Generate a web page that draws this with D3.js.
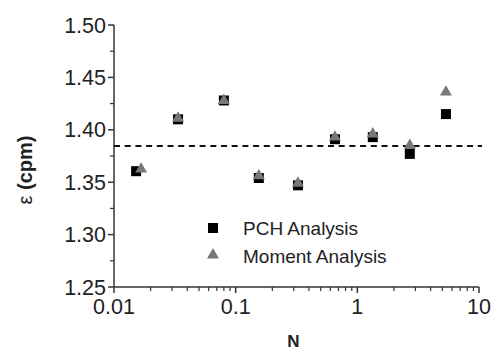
<!DOCTYPE html>
<html>
<head>
<meta charset="utf-8">
<script src="https://cdn.jsdelivr.net/npm/d3@7"></script>
<style>
    body { margin: 0; background: #fff; }
    svg { display: block; font-family: "Liberation Sans", Arial, sans-serif; }
</style>
</head>
<body>
<svg id="chart" width="495" height="350"></svg>
<script>
var pchN = [0.0152, 0.0336, 0.080, 0.155, 0.325, 0.655, 1.34, 2.7, 5.35],
    pchEps = [1.3605, 1.410, 1.428, 1.354, 1.347, 1.391, 1.393, 1.377, 1.415],
    momentN = [0.0167, 0.0336, 0.080, 0.155, 0.325, 0.655, 1.34, 2.7, 5.35],
    momentEps = [1.3625, 1.411, 1.428, 1.356, 1.349, 1.393, 1.396, 1.385, 1.436],
    meanEps = 1.3845;

var xMajor = [0.01, 0.1, 1, 10],
    xMajorLabels = ["0.01", "0.1", "1", "10"],
    yMajor = [1.25, 1.30, 1.35, 1.40, 1.45, 1.50],
    yMinor = [1.275, 1.325, 1.375, 1.425, 1.475],
    legendLabels = ["PCH Analysis", "Moment Analysis"];

var axisColor = "#333",
    squareColor = "#000",
    triangleColor = "#777";

var svg = d3.select("#chart");

var x = d3.scaleLog().domain([0.01, 10]).range([114, 479]);
var y = d3.scaleLinear().domain([1.25, 1.50]).range([287, 25]);

// minor ticks for the log axis: 2..9 in every decade
var xMinor = [];
xMajor.slice(0, -1).forEach(function(d) {
    for (var k = 2; k <= 9; k++) xMinor.push(d * k);
});

// y axis
var yAxis = svg.append("g").attr("transform", "translate(" + x.range()[0] + ",0)");
yAxis.append("line")
    .attr("y1", y(1.50)).attr("y2", y(1.25))
    .style("stroke", axisColor).style("stroke-width", 1.5);
yAxis.selectAll("line.major").data(yMajor).enter().append("line")
    .attr("class", "major")
    .attr("x1", -6).attr("x2", 0)
    .attr("y1", function(d) { return y(d); })
    .attr("y2", function(d) { return y(d); })
    .style("stroke", axisColor).style("stroke-width", 1.5);
yAxis.selectAll("line.minor").data(yMinor).enter().append("line")
    .attr("class", "minor")
    .attr("x1", -4).attr("x2", 0)
    .attr("y1", function(d) { return y(d); })
    .attr("y2", function(d) { return y(d); })
    .style("stroke", axisColor).style("stroke-width", 1.2);
yAxis.selectAll("text").data(yMajor).enter().append("text")
    .attr("x", -8)
    .attr("y", function(d) { return y(d) + 7.5; })
    .attr("text-anchor", "end")
    .style("font-size", "21.5px")
    .style("fill", "#222")
    .text(function(d) { return d3.format(".2f")(d); });

// x axis
var xAxis = svg.append("g").attr("transform", "translate(0," + y.range()[0] + ")");
xAxis.append("line")
    .attr("x1", x(0.01)).attr("x2", x(10))
    .style("stroke", axisColor).style("stroke-width", 1.5);
xAxis.selectAll("line.major").data(xMajor).enter().append("line")
    .attr("class", "major")
    .attr("x1", function(d) { return x(d); })
    .attr("x2", function(d) { return x(d); })
    .attr("y1", 0).attr("y2", 6)
    .style("stroke", axisColor).style("stroke-width", 1.5);
xAxis.selectAll("line.minor").data(xMinor).enter().append("line")
    .attr("class", "minor")
    .attr("x1", function(d) { return x(d); })
    .attr("x2", function(d) { return x(d); })
    .attr("y1", 0).attr("y2", 4)
    .style("stroke", axisColor).style("stroke-width", 1.2);
xAxis.selectAll("text").data(xMajor).enter().append("text")
    .attr("x", function(d) { return x(d); })
    .attr("y", 27)
    .attr("text-anchor", "middle")
    .style("font-size", "21.5px")
    .style("fill", "#222")
    .text(function(d, i) { return xMajorLabels[i]; });

// axis titles
svg.append("text")
    .attr("x", (x.range()[0] + x.range()[1]) / 2 - 3)
    .attr("y", 347)
    .attr("text-anchor", "middle")
    .style("font-size", "17px")
    .style("font-weight", "bold")
    .style("fill", "#222")
    .text("N");
svg.append("text")
    .attr("transform", "translate(32,170) rotate(-90)")
    .attr("text-anchor", "middle")
    .style("font-size", "20px")
    .style("fill", "#222")
    .html('<tspan>ε</tspan><tspan style="font-weight:bold"> (cpm)</tspan>');

// mean line
svg.append("line")
    .attr("x1", x(0.01)).attr("x2", x(10) + 3)
    .attr("y1", y(meanEps)).attr("y2", y(meanEps))
    .style("stroke", "#111")
    .style("stroke-width", 2)
    .style("stroke-dasharray", "6,4.7");

// markers
var square = d3.symbol().type(d3.symbolSquare).size(100);
var triangle = d3.symbol().type(d3.symbolTriangle).size(62);

svg.append("g").selectAll("path").data(pchN).enter().append("path")
    .attr("d", square)
    .attr("transform", function(d, i) { return "translate(" + x(d) + "," + y(pchEps[i]) + ")"; })
    .style("fill", squareColor);
svg.append("g").selectAll("path").data(momentN).enter().append("path")
    .attr("d", triangle)
    .attr("transform", function(d, i) { return "translate(" + x(d) + "," + y(momentEps[i]) + ")"; })
    .style("fill", triangleColor);

// legend
var legend = svg.append("g").attr("transform", "translate(213,228)");
legend.append("path").attr("d", square).style("fill", squareColor);
legend.append("path").attr("d", triangle).attr("transform", "translate(0,27)").style("fill", triangleColor);
legend.selectAll("text").data(legendLabels).enter().append("text")
    .attr("x", 30)
    .attr("y", function(d, i) { return 7 + i * 28; })
    .style("font-size", "19px")
    .style("fill", "#222")
    .text(function(d) { return d; });
</script>
</body>
</html>
